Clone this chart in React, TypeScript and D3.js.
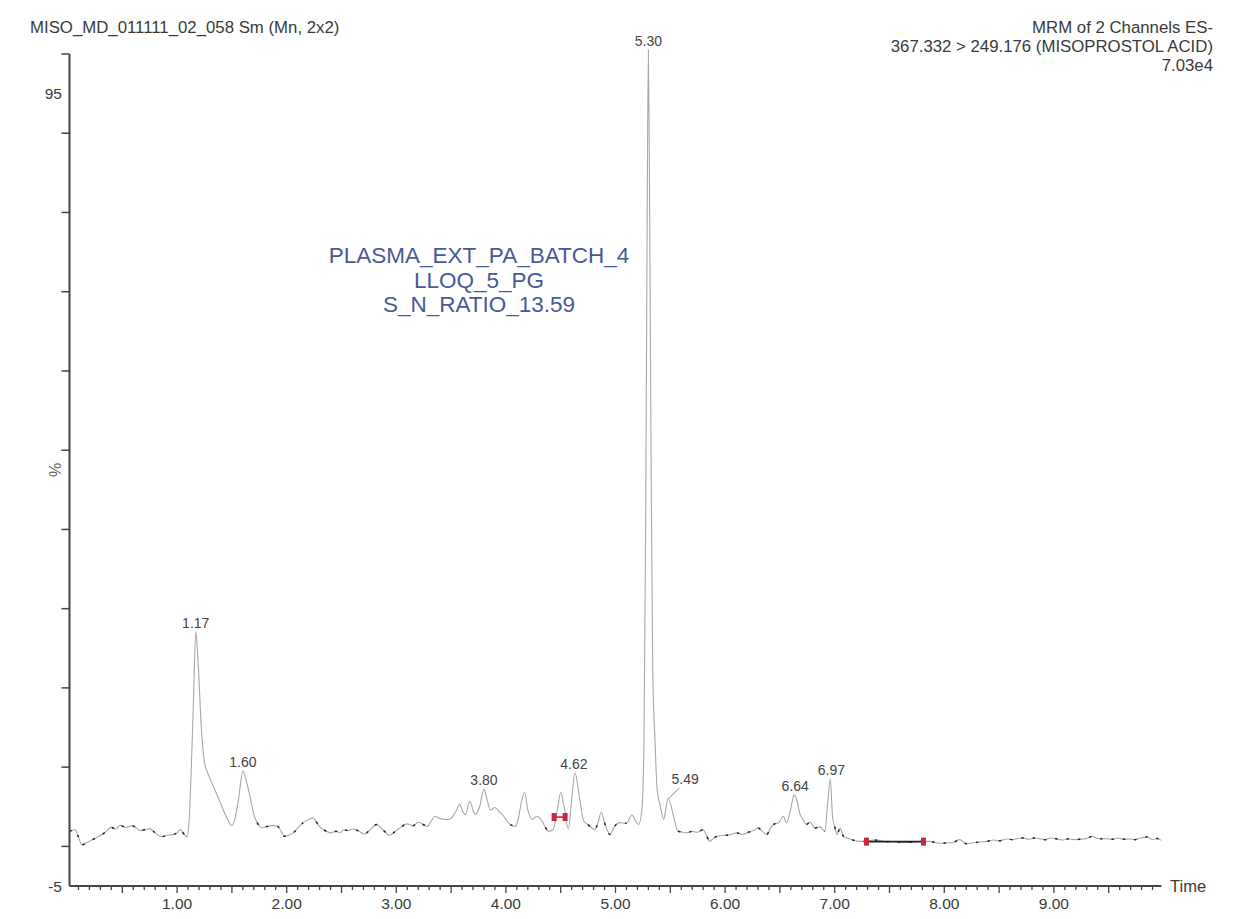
import React, { useEffect, useRef } from 'react'
import * as d3 from 'd3'

// retention time (min), intensity (%)
const trace: [number, number][] = [
  [0.02, 1.9], [0.07, 2.1], [0.1, 1.2], [0.13, 0.2], [0.18, 0.5], [0.23, 0.85], [0.29, 1.3], [0.34, 1.73],
  [0.4, 2.4], [0.44, 2.2], [0.48, 2.66], [0.53, 2.4], [0.59, 2.62], [0.63, 2.3], [0.66, 2.0], [0.71, 2.1],
  [0.75, 2.24], [0.8, 1.7], [0.86, 1.23], [0.91, 1.4], [0.96, 1.48], [1.0, 1.7], [1.03, 2.11], [1.06, 1.6],
  [1.09, 1.2], [1.11, 3.4], [1.13, 10.1], [1.15, 18.6], [1.17, 27.1], [1.19, 23.6], [1.22, 15.2], [1.25, 10.6],
  [1.29, 8.9], [1.33, 7.6], [1.38, 6.0], [1.42, 4.65], [1.46, 3.4], [1.5, 2.6], [1.53, 3.6], [1.56, 5.9],
  [1.6, 9.5], [1.64, 7.8], [1.67, 6.0], [1.7, 4.0], [1.73, 3.0], [1.77, 2.35], [1.82, 2.5], [1.88, 2.62],
  [1.92, 2.5], [1.95, 1.9], [1.98, 1.27], [2.02, 1.4], [2.06, 1.7], [2.1, 2.3], [2.15, 3.0], [2.2, 3.4],
  [2.24, 3.6], [2.27, 3.1], [2.3, 2.5], [2.35, 2.0], [2.4, 1.7], [2.45, 1.9], [2.49, 1.75], [2.52, 2.1],
  [2.56, 2.0], [2.61, 2.2], [2.66, 1.9], [2.71, 1.57], [2.76, 2.1], [2.82, 2.75], [2.87, 2.2], [2.94, 1.4],
  [2.99, 1.9], [3.04, 2.4], [3.1, 2.84], [3.15, 2.6], [3.2, 3.04], [3.24, 2.8], [3.28, 2.5], [3.32, 3.2],
  [3.35, 3.8], [3.4, 3.5], [3.44, 3.4], [3.48, 3.4], [3.51, 3.7], [3.55, 4.6], [3.58, 5.3], [3.61, 4.3],
  [3.63, 4.0], [3.67, 5.7], [3.7, 4.6], [3.72, 4.0], [3.76, 5.0], [3.8, 7.2], [3.83, 5.8], [3.86, 4.6],
  [3.9, 4.9], [3.94, 4.4], [3.98, 3.8], [4.01, 3.2], [4.04, 2.75], [4.08, 2.5], [4.11, 3.3], [4.14, 5.5],
  [4.17, 6.8], [4.2, 4.6], [4.24, 3.4], [4.28, 3.8], [4.33, 3.2], [4.36, 2.4], [4.39, 1.9], [4.43, 2.1],
  [4.47, 4.6], [4.5, 6.8], [4.53, 5.1], [4.57, 2.2], [4.6, 5.9], [4.63, 9.3], [4.67, 6.3], [4.71, 3.2],
  [4.75, 2.75], [4.81, 2.1], [4.84, 3.0], [4.87, 4.3], [4.9, 3.0], [4.95, 1.5], [4.99, 2.5], [5.04, 3.0],
  [5.1, 2.9], [5.15, 4.0], [5.18, 3.3], [5.21, 2.75], [5.24, 4.5], [5.25, 7.0], [5.26, 13.5], [5.275, 40],
  [5.29, 82], [5.3, 100.5], [5.31, 84], [5.325, 48], [5.34, 22], [5.36, 13.5], [5.38, 7.2], [5.41, 5.0],
  [5.44, 3.4], [5.46, 4.8], [5.48, 6.1], [5.53, 3.8], [5.57, 1.9], [5.61, 1.8], [5.65, 1.7], [5.7, 1.9],
  [5.74, 1.77], [5.8, 2.1], [5.83, 1.4], [5.86, 0.63], [5.9, 1.1], [5.95, 1.35], [6.0, 1.4], [6.05, 1.5],
  [6.11, 1.7], [6.16, 1.5], [6.21, 1.77], [6.26, 2.0], [6.3, 2.33], [6.34, 1.9], [6.38, 1.48], [6.41, 2.2],
  [6.44, 2.75], [6.49, 3.0], [6.53, 3.8], [6.56, 2.96], [6.6, 4.8], [6.63, 6.5], [6.66, 5.6], [6.68, 4.2],
  [6.71, 3.4], [6.745, 2.75], [6.775, 3.04], [6.82, 2.33], [6.866, 2.46], [6.91, 1.9], [6.936, 5.5], [6.96, 8.5],
  [6.98, 3.8], [7.0, 2.5], [7.02, 1.48], [7.05, 2.33], [7.08, 1.27], [7.14, 0.94], [7.22, 0.63], [7.29, 0.63],
  [7.35, 0.8], [7.41, 0.76], [7.48, 0.6], [7.55, 0.62], [7.6, 0.5], [7.66, 0.5], [7.72, 0.55], [7.81, 0.63],
  [7.88, 0.6], [7.95, 0.4], [8.02, 0.43], [8.08, 0.5], [8.14, 0.85], [8.2, 0.34], [8.26, 0.45], [8.32, 0.55],
  [8.39, 0.63], [8.45, 0.8], [8.5, 0.7], [8.57, 0.94], [8.62, 0.85], [8.67, 1.0], [8.72, 1.06], [8.77, 0.9],
  [8.82, 1.05], [8.87, 0.97], [8.92, 0.85], [8.97, 1.05], [9.03, 0.94], [9.08, 0.8], [9.13, 0.95], [9.18, 0.85],
  [9.24, 0.9], [9.3, 1.0], [9.35, 1.27], [9.4, 1.0], [9.44, 0.95], [9.48, 0.97], [9.53, 0.9], [9.58, 1.05],
  [9.64, 0.9], [9.69, 0.94], [9.74, 0.85], [9.79, 1.05], [9.85, 1.19], [9.9, 0.85], [9.94, 1.0], [9.98, 0.76],
]

// labelled peaks: [time, apex %]
const peaks: [number, number][] = [
  [1.17, 27.1], [1.6, 9.5], [3.8, 7.2], [4.62, 9.3], [5.3, 100.5], [6.64, 6.5], [6.97, 8.5],
]
const leaderPeak: [number, number] = [5.49, 6.1]

// integration marks: [start, end, level %]
const integrations: [number, number, number][] = [
  [4.44, 4.54, 3.7],
  [7.29, 7.81, 0.6],
]

const yTicks = d3.range(0, 101, 10)
const yLabels = [95, -5]
const xMajor = d3.range(1, 10, 1)
const xMinor = d3.range(0.1, 10, 0.1)

const titleLeft = 'MISO_MD_011111_02_058 Sm (Mn, 2x2)'
const headerRight = ['MRM of 2 Channels ES-', '367.332 > 249.176 (MISOPROSTOL ACID)', '7.03e4']
const sampleText = ['PLASMA_EXT_PA_BATCH_4', 'LLOQ_5_PG', 'S_N_RATIO_13.59']

const FONT = '"Liberation Sans", Arial, sans-serif'

const App: React.FC = () => {
  const ref = useRef<SVGSVGElement | null>(null)

  useEffect(() => {
    if (!ref.current) return
    const width = 1245
    const height = 919
    const svg = d3.select(ref.current)
    svg.selectAll('*').remove()

    const x = d3.scaleLinear().domain([0, 10]).range([67.5, 1163.5])
    const y = d3.scaleLinear().domain([-5, 100]).range([886, 54])
    const axisX = 69.5
    const axisY = y(-5)

    svg.append('rect').attr('width', width).attr('height', height).attr('fill', '#fff')

    // headers
    svg.append('text')
      .attr('x', 30).attr('y', 32.5)
      .attr('font-family', FONT).attr('font-size', 16.8).attr('fill', '#3a3a3a')
      .text(titleLeft)

    svg.selectAll('.hdr')
      .data(headerRight)
      .join('text')
      .attr('class', 'hdr')
      .attr('x', 1213)
      .attr('y', (_, i) => 33 + i * 19)
      .attr('text-anchor', 'end')
      .attr('font-family', FONT).attr('font-size', 16.8).attr('fill', '#3a3a3a')
      .text(d => d)

    svg.selectAll('.sample')
      .data(sampleText)
      .join('text')
      .attr('class', 'sample')
      .attr('x', 479)
      .attr('y', (_, i) => 263 + i * 24.5)
      .attr('text-anchor', 'middle')
      .attr('font-family', FONT).attr('font-size', 22.5).attr('fill', '#4a5896')
      .text(d => d)

    // axes
    const axes = svg.append('g').attr('stroke', '#444').attr('fill', 'none')
    axes.append('line')
      .attr('x1', axisX).attr('x2', axisX)
      .attr('y1', y(100)).attr('y2', axisY)
      .attr('stroke-width', 2)
    axes.append('line')
      .attr('x1', axisX).attr('x2', x(9.98))
      .attr('y1', axisY).attr('y2', axisY)
      .attr('stroke-width', 2)

    axes.selectAll('.ytick')
      .data(yTicks)
      .join('line')
      .attr('class', 'ytick')
      .attr('x1', axisX - 8).attr('x2', axisX)
      .attr('y1', d => y(d)).attr('y2', d => y(d))
      .attr('stroke-width', 1.5)

    axes.selectAll('.xminor')
      .data(xMinor)
      .join('line')
      .attr('class', 'xminor')
      .attr('x1', d => x(d)).attr('x2', d => x(d))
      .attr('y1', axisY)
      .attr('y2', d => axisY + (Math.abs(d * 2 - Math.round(d * 2)) < 1e-6 ? 7 : 4))
      .attr('stroke-width', 1.3)

    svg.selectAll('.xlab')
      .data(xMajor)
      .join('text')
      .attr('class', 'xlab')
      .attr('x', d => x(d))
      .attr('y', 909)
      .attr('text-anchor', 'middle')
      .attr('font-family', FONT).attr('font-size', 15.5).attr('fill', '#3a3a3a')
      .text(d => d.toFixed(2))

    svg.selectAll('.ylab')
      .data(yLabels)
      .join('text')
      .attr('class', 'ylab')
      .attr('x', 62)
      .attr('y', d => y(d) + 5.5)
      .attr('text-anchor', 'end')
      .attr('font-family', FONT).attr('font-size', 15.5).attr('fill', '#3a3a3a')
      .text(d => d)

    svg.append('text')
      .attr('x', 1170).attr('y', 891.5)
      .attr('font-family', FONT).attr('font-size', 16.5).attr('fill', '#3a3a3a')
      .text('Time')

    svg.append('text')
      .attr('transform', `translate(61,${y(47.5)}) rotate(-90)`)
      .attr('text-anchor', 'middle')
      .attr('font-family', FONT).attr('font-size', 16).attr('fill', '#666')
      .text('%')

    // trace
    const line = d3.line<[number, number]>()
      .x(d => x(d[0]))
      .y(d => y(d[1]))
      .curve(d3.curveMonotoneX)

    svg.append('path')
      .datum(trace)
      .attr('d', line)
      .attr('fill', 'none')
      .attr('stroke', '#a8a8a8')
      .attr('stroke-width', 1.1)
      .attr('stroke-linejoin', 'round')

    // dark speckle on the flat parts of the trace
    svg.append('path')
      .datum(trace)
      .attr('d', line.defined(d => d[1] < 3.2))
      .attr('fill', 'none')
      .attr('stroke', '#222')
      .attr('stroke-width', 1.5)
      .attr('stroke-dasharray', '2.5 9')

    // integration baselines and markers
    integrations.forEach(([t0, t1, v]) => {
      svg.append('line')
        .attr('x1', x(t0)).attr('x2', x(t1))
        .attr('y1', y(v)).attr('y2', y(v))
        .attr('stroke', t1 - t0 > 0.2 ? '#222' : '#c8283c')
        .attr('stroke-width', 1.6)
      ;[t0, t1].forEach(t => {
        svg.append('rect')
          .attr('x', x(t) - 2.5).attr('y', y(v) - 4)
          .attr('width', 5).attr('height', 8)
          .attr('fill', '#c8283c')
      })
    })

    // peak labels
    svg.selectAll('.plab')
      .data(peaks)
      .join('text')
      .attr('class', 'plab')
      .attr('x', d => x(d[0]))
      .attr('y', d => y(d[1]) - 4)
      .attr('text-anchor', 'middle')
      .attr('font-family', FONT).attr('font-size', 14).attr('fill', '#444')
      .text(d => d[0].toFixed(2))

    const lx = x(leaderPeak[0])
    const ly = y(leaderPeak[1])
    svg.append('line')
      .attr('x1', lx).attr('y1', ly)
      .attr('x2', lx + 10).attr('y2', ly - 10)
      .attr('stroke', '#888').attr('stroke-width', 1)
    svg.append('text')
      .attr('x', lx + 16).attr('y', ly - 14)
      .attr('text-anchor', 'middle')
      .attr('font-family', FONT).attr('font-size', 14).attr('fill', '#444')
      .text(leaderPeak[0].toFixed(2))
  }, [])

  return (
    <svg
      ref={ref}
      width={1245}
      height={919}
      style={{ position: 'absolute', left: 0, top: 0, display: 'block' }}
    />
  )
}

export default App
